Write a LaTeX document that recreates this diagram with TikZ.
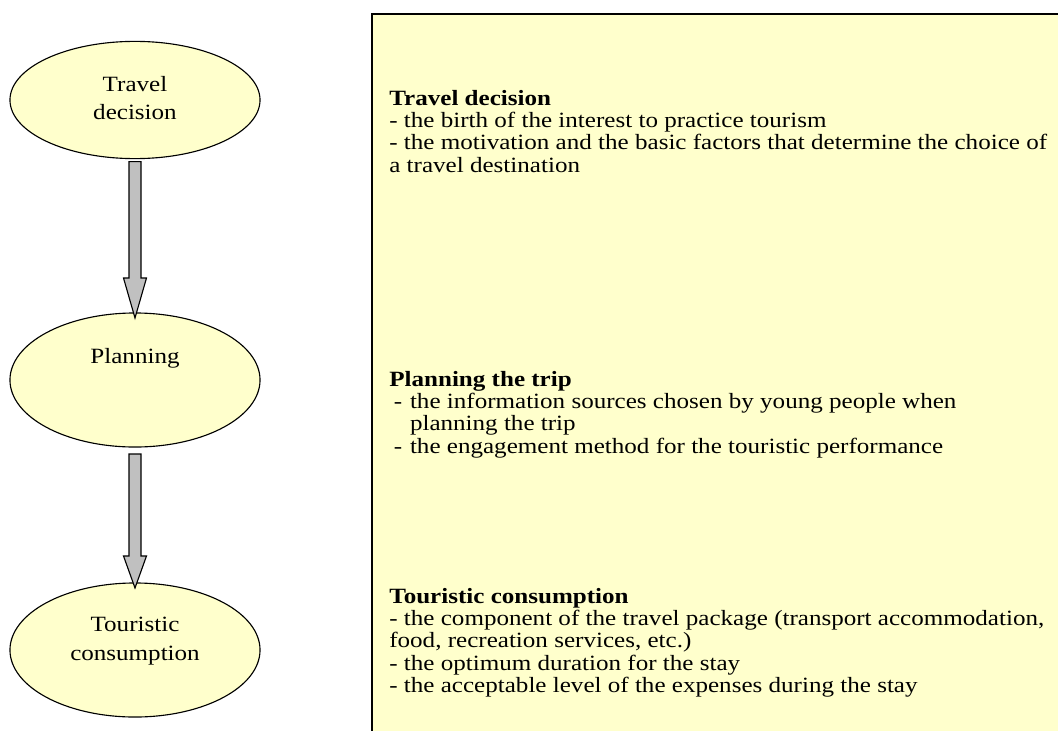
\documentclass[tikz,border=0pt]{standalone}
\usepackage{fontspec}
\setmainfont{Liberation Serif}
\usetikzlibrary{shapes.geometric,calc}

\definecolor{paleyellow}{HTML}{FFFFCC}
\definecolor{arrowgray}{HTML}{C0C0C0}

\newcommand\boxfont{\fontsize{15.5}{15.65}\selectfont\lineskiplimit=-20pt\relax}

\tikzset{
  stage/.style={ellipse,draw=black,line width=0.8pt,fill=paleyellow,
                minimum width=6.25cm,outer sep=0pt,inner sep=0pt},
  stagetext/.style={align=center,xscale=1.15,transform shape,
                    font=\fontsize{15.5}{20.5}\selectfont},
  blockarrow/.style={draw=black,line width=0.8pt,fill=arrowgray,line join=miter},
  infobox/.style={draw=black,line width=1.3pt,fill=paleyellow},
  infotext/.style={anchor=base west,align=left,inner sep=0pt,
                   xscale=1.15,transform shape,font=\boxfont}
}

\begin{document}
\begin{tikzpicture}[x=0.025cm,y=-0.025cm]
  \useasboundingbox (0,0) rectangle (1058,730);
  \clip (0,0) rectangle (1058,730);

  % the three stages
  \node[stage,minimum height=2.93cm] (travel) at (135,100) {};
  \node[stage,minimum height=3.35cm] (plan) at (135,380) {};
  \node[stage,minimum height=3.35cm] (cons) at (135,650) {};

  \node[stagetext] (traveltext) at (135,98) {Travel\\decision};
  \node[stagetext] (plantext) at (135,358) {Planning};
  \node[stagetext] (constext) at (135,641) {Touristic\\consumption};

  % block arrows
  \draw[blockarrow] ($(travel.south)+(-6,3)$) -- ($(plan.north)+(-6,-35)$)
    -- ($(plan.north)+(-11.5,-35)$) -- ($(plan.north)+(0,5)$)
    -- ($(plan.north)+(11.5,-35)$) -- ($(plan.north)+(6,-35)$)
    -- ($(travel.south)+(6,3)$) -- cycle;
  \draw[blockarrow] ($(plan.south)+(-6,7)$) -- ($(cons.north)+(-6,-27)$)
    -- ($(cons.north)+(-11.5,-27)$) -- ($(cons.north)+(0,5)$)
    -- ($(cons.north)+(11.5,-27)$) -- ($(cons.north)+(6,-27)$)
    -- ($(plan.south)+(6,7)$) -- cycle;

  % the description box
  \node[infobox,anchor=north west,minimum width=17.8cm,minimum height=18.5cm]
    (box) at (371,13) {};

  \node[infotext] (traveldesc) at (389,172) {\textbf{Travel decision}\\
    - the birth of the interest to practice tourism\\
    - the motivation and the basic factors that determine the choice of\\
    a travel destination};

  \node[infotext] (plandesc) at (389,453) {\textbf{Planning the trip}\\
    \hspace*{0.1cm}\makebox[0.35cm][l]{-}the information sources chosen by young people when\\
    \hspace*{0.45cm}planning the trip\\
    \hspace*{0.1cm}\makebox[0.35cm][l]{-}the engagement method for the touristic performance};

  \node[infotext] (consdesc) at (389,692) {\textbf{Touristic consumption}\\
    - the component of the travel package (transport accommodation,\\
    food, recreation services, etc.)\\
    - the optimum duration for the stay\\
    - the acceptable level of the expenses during the stay};
\end{tikzpicture}
\end{document}
